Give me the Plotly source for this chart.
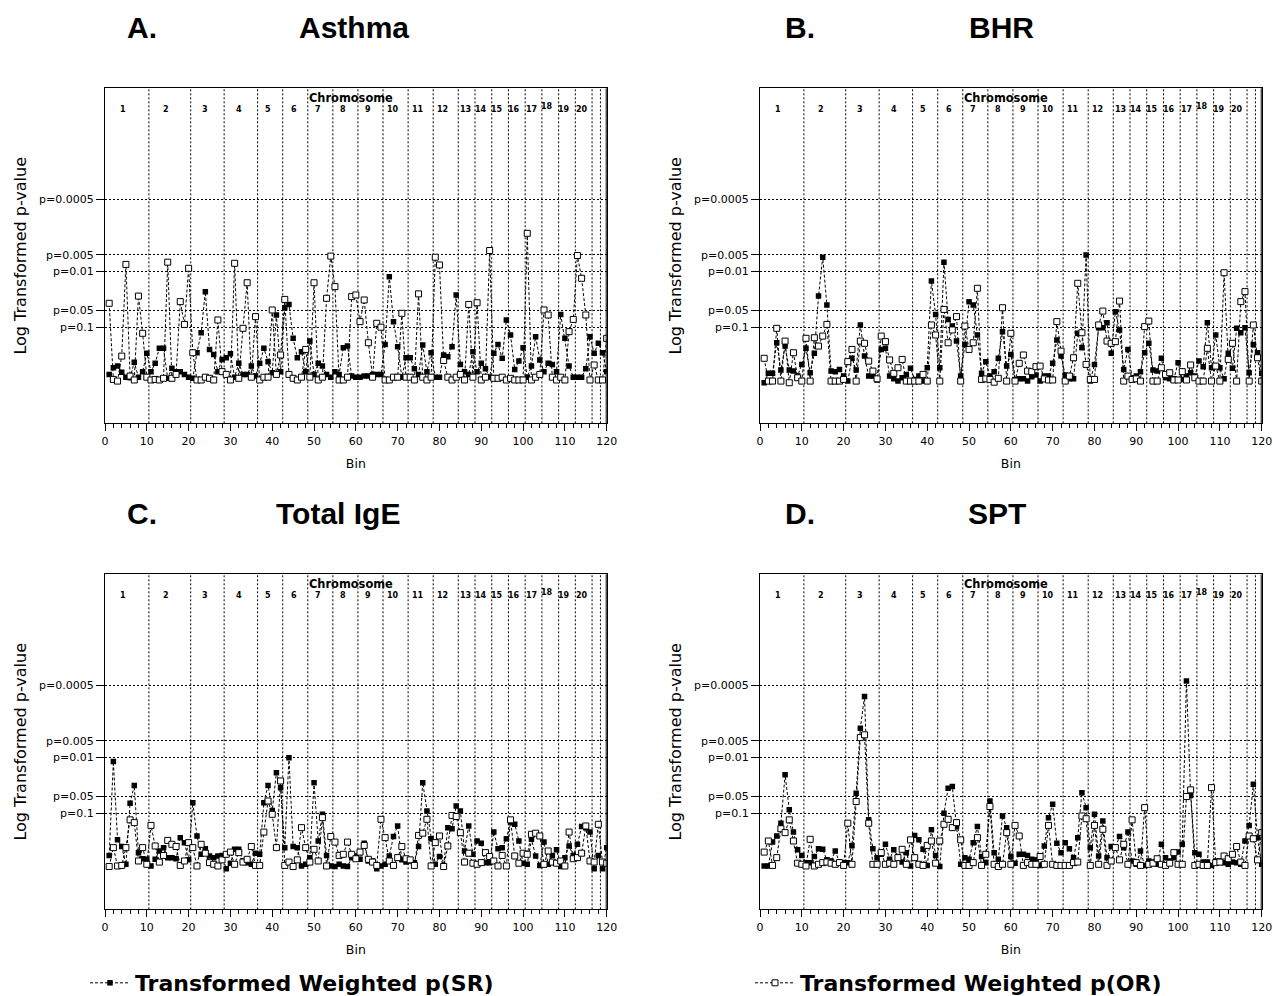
import plotly.graph_objects as go
import numpy as np

# ---------------- data ----------------
bins = list(range(1, 121))

p_ticks = [0.0005, 0.005, 0.01, 0.05, 0.1]
p_tick_text = ["p=0.0005", "p=0.005", "p=0.01", "p=0.05", "p=0.1"]

chrom_bounds = [10.5, 20.5, 28.5, 36.5, 42.5, 48.5, 54.5, 60.5, 66.5, 72.5,
                78.5, 84.5, 88.5, 92.5, 96.5, 100.5, 104.5, 108.5, 112.5, 116.5, 118.5]
chrom_labels = [str(i) for i in range(1, 21)]
chrom_label_x = [4.4, 14.6, 23.9, 32.1, 39.1, 45.3, 51.0, 57.0, 63.0, 68.9,
                 74.9, 80.7, 86.2, 90.0, 93.8, 97.8, 102.0, 105.7, 109.7, 114.0]

A_SR = [0.15, 0.27, 0.30, 0.19, 0.10, 0.09, 0.37, 0.10, 0.20, 0.53,
        0.20, 0.35, 0.62, 0.62, 0.08, 0.26, 0.20, 0.20, 0.15, 0.10,
        0.08, 0.54, 0.90, 1.64, 0.60, 0.51, 0.20, 0.42, 0.45, 0.52,
        0.10, 0.35, 0.15, 0.15, 0.30, 0.12, 0.35, 0.62, 0.38, 0.18,
        1.22, 0.20, 1.35, 1.41, 0.80, 0.45, 0.56, 0.20, 0.75, 0.15,
        0.35, 0.30, 0.15, 0.10, 0.20, 0.15, 0.63, 0.66, 0.12, 0.10,
        0.10, 0.12, 0.12, 0.15, 0.15, 0.15, 0.69, 1.91, 1.10, 0.65,
        0.10, 0.45, 0.45, 0.25, 0.15, 0.68, 0.20, 0.54, 0.10, 0.10,
        0.50, 0.47, 0.65, 1.58, 0.33, 0.20, 0.15, 0.56, 0.20, 0.35,
        0.25, 0.10, 0.53, 0.69, 0.44, 1.13, 0.86, 0.24, 0.39, 0.63,
        0.10, 0.30, 0.83, 0.41, 0.20, 0.35, 0.33, 0.20, 1.23, 0.80,
        0.30, 0.10, 0.10, 0.10, 0.25, 0.83, 0.53, 0.71, 0.54, 0.20]
A_OR = [1.43, 0.06, 0.03, 0.48, 2.13, 0.12, 0.05, 1.56, 0.89, 0.10,
        0.05, 0.06, 0.05, 0.08, 2.17, 0.08, 0.15, 1.46, 1.05, 2.06,
        0.54, 0.05, 0.05, 0.10, 0.08, 0.05, 1.13, 0.20, 0.15, 0.05,
        2.15, 0.08, 0.98, 1.80, 0.10, 1.19, 0.05, 0.10, 0.10, 1.31,
        0.15, 0.50, 1.50, 0.15, 0.08, 0.05, 0.10, 0.60, 0.10, 1.80,
        0.05, 0.10, 1.52, 2.28, 1.73, 0.05, 0.05, 0.10, 1.55, 1.58,
        1.10, 1.49, 0.72, 0.10, 1.07, 1.00, 0.05, 0.05, 0.10, 0.10,
        1.25, 0.10, 0.10, 0.05, 1.60, 0.10, 0.05, 0.10, 2.26, 2.12,
        0.40, 0.10, 0.05, 0.10, 0.15, 0.05, 1.41, 0.10, 1.44, 0.05,
        0.10, 2.38, 0.08, 0.08, 0.10, 0.05, 0.08, 0.05, 0.05, 0.05,
        2.69, 0.05, 0.10, 0.15, 1.31, 1.22, 0.10, 0.05, 0.10, 0.05,
        0.92, 1.14, 2.29, 1.88, 1.22, 0.05, 0.32, 0.05, 0.05, 0.80]

B_SR = [0.00, 0.17, 0.17, 0.72, 0.23, 0.66, 0.23, 0.21, 0.12, 0.33,
        0.62, 0.18, 0.53, 1.56, 2.26, 1.40, 0.21, 0.20, 0.24, 0.12,
        0.03, 0.44, 0.23, 1.04, 0.48, 0.12, 0.12, 0.05, 0.60, 0.62,
        0.12, 0.07, 0.03, 0.09, 0.15, 0.26, 0.06, 0.12, 0.03, 0.27,
        1.83, 1.23, 0.27, 2.17, 1.14, 1.02, 0.75, 0.12, 0.69, 1.46,
        1.40, 0.86, 0.17, 0.38, 0.12, 0.20, 0.44, 0.92, 0.30, 0.51,
        0.06, 0.07, 0.07, 0.03, 0.11, 0.14, 0.03, 0.12, 0.12, 0.35,
        0.77, 0.48, 0.14, 0.07, 0.07, 0.89, 0.63, 2.30, 0.03, 0.33,
        0.99, 0.99, 1.08, 0.53, 1.28, 0.95, 0.24, 0.60, 0.09, 0.12,
        0.20, 0.54, 0.71, 0.23, 0.21, 0.44, 0.09, 0.07, 0.07, 0.36,
        0.06, 0.12, 0.18, 0.12, 0.39, 0.29, 1.08, 0.27, 0.86, 0.27,
        0.07, 0.53, 0.26, 0.98, 0.90, 0.99, 0.18, 0.69, 0.54, 0.17]
B_OR = [0.44, 0.03, 0.03, 0.98, 0.03, 0.75, 0.00, 0.54, 0.09, 0.03,
        0.80, 0.03, 0.81, 0.66, 0.84, 1.05, 0.03, 0.03, 0.03, 0.06,
        0.38, 0.60, 0.03, 0.75, 0.71, 0.39, 0.21, 0.07, 0.84, 0.74,
        0.41, 0.17, 0.27, 0.42, 0.03, 0.03, 0.03, 0.03, 0.15, 0.03,
        1.04, 0.86, 0.03, 1.32, 0.72, 0.95, 1.19, 0.03, 1.02, 0.60,
        0.72, 1.70, 0.06, 0.07, 0.06, 0.01, 0.08, 1.35, 0.03, 0.89,
        0.03, 0.35, 0.50, 0.21, 0.20, 0.29, 0.30, 0.07, 0.05, 0.05,
        1.10, 0.57, 0.03, 0.12, 0.45, 1.79, 0.90, 0.33, 0.06, 0.06,
        1.04, 1.29, 0.75, 0.71, 0.74, 1.47, 0.03, 0.12, 0.06, 0.07,
        0.03, 1.01, 1.11, 0.03, 0.03, 0.27, 0.15, 0.18, 0.05, 0.05,
        0.20, 0.05, 0.32, 0.09, 0.03, 0.03, 0.62, 0.03, 0.30, 0.03,
        1.98, 0.42, 0.71, 0.03, 1.46, 1.64, 0.03, 1.04, 0.45, 0.03]

C_SR = [0.24, 1.93, 0.52, 0.40, 0.08, 1.18, 1.50, 0.29, 0.18, 0.17,
        0.05, 0.17, 0.32, 0.38, 0.20, 0.20, 0.18, 0.56, 0.47, 0.16,
        1.19, 0.59, 0.26, 0.36, 0.23, 0.20, 0.23, 0.24, 0.00, 0.10,
        0.35, 0.35, 0.14, 0.11, 0.08, 0.28, 0.26, 1.19, 1.50, 1.05,
        1.73, 1.46, 0.38, 2.00, 0.40, 0.38, 0.05, 0.08, 0.20, 1.55,
        0.50, 0.98, 0.24, 0.05, 0.04, 0.08, 0.05, 0.04, 0.20, 0.23,
        0.17, 0.46, 0.14, 0.14, 0.00, 0.05, 0.08, 0.23, 0.58, 0.77,
        0.16, 0.12, 0.14, 0.11, 0.40, 1.55, 1.04, 0.54, 0.08, 0.22,
        0.06, 0.74, 0.72, 1.13, 1.04, 0.32, 0.77, 0.26, 0.50, 0.46,
        0.11, 0.11, 0.66, 0.36, 0.38, 0.54, 0.84, 0.80, 0.50, 0.10,
        0.08, 0.53, 0.23, 0.06, 0.48, 0.08, 0.24, 0.34, 0.04, 0.20,
        0.41, 0.24, 0.44, 0.76, 0.74, 0.66, 0.00, 0.24, 0.00, 0.38]
C_OR = [0.04, 0.38, 0.05, 0.06, 0.38, 0.88, 0.83, 0.14, 0.38, 0.08,
        0.78, 0.41, 0.12, 0.24, 0.51, 0.44, 0.40, 0.06, 0.14, 0.47,
        0.38, 0.05, 0.44, 0.28, 0.11, 0.08, 0.05, 0.16, 0.26, 0.30,
        0.08, 0.29, 0.12, 0.17, 0.40, 0.06, 0.06, 0.66, 1.22, 0.98,
        0.38, 1.58, 0.06, 0.12, 0.04, 0.16, 0.74, 0.38, 0.12, 0.35,
        0.14, 0.92, 0.05, 0.58, 0.48, 0.24, 0.26, 0.48, 0.26, 0.18,
        0.30, 0.42, 0.17, 0.12, 0.06, 0.89, 0.56, 0.14, 0.06, 0.20,
        0.40, 0.18, 0.16, 0.06, 0.60, 0.64, 0.89, 0.05, 0.47, 0.59,
        0.04, 0.41, 0.96, 0.94, 0.65, 0.12, 0.28, 0.10, 0.08, 0.11,
        0.29, 0.22, 0.14, 0.05, 0.24, 0.05, 0.88, 0.23, 0.10, 0.28,
        0.26, 0.62, 0.64, 0.59, 0.08, 0.32, 0.12, 0.10, 0.14, 0.05,
        0.66, 0.18, 0.20, 0.28, 0.77, 0.14, 0.12, 0.80, 0.12, 0.10]

D_SR = [0.05, 0.05, 0.48, 0.59, 0.82, 1.69, 1.06, 0.66, 0.34, 0.24,
        0.11, 0.11, 0.22, 0.36, 0.35, 0.16, 0.14, 0.32, 0.12, 0.11,
        0.11, 0.42, 1.36, 2.53, 3.10, 0.88, 0.36, 0.20, 0.26, 0.44,
        0.17, 0.34, 0.22, 0.12, 0.29, 0.05, 0.60, 0.52, 0.35, 0.06,
        0.70, 0.24, 0.04, 1.00, 1.45, 1.48, 0.76, 0.08, 0.20, 0.17,
        0.47, 0.76, 0.22, 0.11, 1.22, 0.29, 0.17, 0.95, 0.74, 0.22,
        0.10, 0.26, 0.26, 0.24, 0.17, 0.16, 0.06, 0.41, 0.92, 1.16,
        0.46, 0.29, 0.47, 0.36, 0.20, 0.56, 1.37, 1.10, 0.38, 0.98,
        0.23, 0.86, 0.20, 0.40, 0.38, 0.58, 0.38, 0.66, 0.14, 0.08,
        0.32, 0.06, 0.14, 0.12, 0.08, 0.44, 0.20, 0.14, 0.20, 0.30,
        0.44, 3.38, 1.32, 0.29, 0.26, 0.12, 0.12, 0.06, 0.14, 0.14,
        0.11, 0.08, 0.12, 0.11, 0.08, 0.50, 0.78, 1.52, 0.56, 0.08]
D_OR = [0.30, 0.50, 0.06, 0.20, 0.72, 0.65, 0.88, 0.50, 0.10, 0.08,
        0.05, 0.53, 0.05, 0.08, 0.11, 0.12, 0.10, 0.08, 0.11, 0.06,
        0.82, 0.08, 1.21, 2.36, 2.41, 0.82, 0.08, 0.08, 0.29, 0.08,
        0.10, 0.08, 0.20, 0.35, 0.08, 0.52, 0.20, 0.08, 0.06, 0.42,
        0.50, 0.10, 0.50, 0.80, 0.89, 0.74, 0.83, 0.52, 0.06, 0.06,
        0.11, 0.56, 0.06, 0.26, 1.12, 0.08, 0.04, 0.08, 0.65, 0.08,
        0.78, 0.59, 0.06, 0.11, 0.08, 0.08, 0.22, 0.08, 0.78, 0.08,
        0.06, 0.06, 0.06, 0.06, 0.11, 0.12, 0.95, 0.90, 0.06, 0.78,
        0.08, 0.71, 0.06, 0.14, 0.38, 0.16, 0.44, 0.08, 0.88, 0.11,
        0.06, 1.10, 0.08, 0.10, 0.18, 0.08, 0.06, 0.10, 0.29, 0.08,
        0.08, 1.30, 1.42, 0.06, 0.08, 0.06, 0.06, 1.46, 0.11, 0.12,
        0.23, 0.18, 0.26, 0.40, 0.12, 0.06, 0.59, 0.54, 0.16, 0.65]

panel_letters = ["A.", "B.", "C.", "D."]
panel_titles = ["Asthma", "BHR", "Total IgE", "SPT"]
panel_sr = [A_SR, B_SR, C_SR, D_SR]
panel_or = [A_OR, B_OR, C_OR, D_OR]
series_names = ["Transformed Weighted p(SR)", "Transformed Weighted p(OR)"]

# ---------------- layout geometry ----------------
W, H = 1273, 996
x_domains = [[105 / W, 606.7 / W], [760 / W, 1261.7 / W]]
y_domains = [[1 - 423.3 / H, 1 - 88.3 / H], [1 - 909.3 / H, 1 - 574.3 / H]]
y_range = [-0.73, 5.30]
tick_y = [float(-np.log10(p)) for p in p_ticks]

FONT = "DejaVu Sans"
TITLE_FONT = "Liberation Sans"

fig = go.Figure()
layout = dict(
    width=W, height=H, autosize=False,
    margin=dict(l=0, r=0, t=0, b=0, autoexpand=False),
    paper_bgcolor="white", plot_bgcolor="white",
    font=dict(family=FONT, color="black"),
    showlegend=True,
)
annotations = []
shapes = []

title_pos = [  # (letter x px, title center x px, y px)
    (125, 354, 27.5), (783, 1001, 27.5), (125, 338, 513.5), (783, 997, 513.5)
]

for i in range(4):
    row, col = divmod(i, 2)
    n = i + 1
    xa = "x" if n == 1 else f"x{n}"
    ya = "y" if n == 1 else f"y{n}"
    xkey = "xaxis" if n == 1 else f"xaxis{n}"
    ykey = "yaxis" if n == 1 else f"yaxis{n}"

    layout[xkey] = dict(
        domain=x_domains[col], anchor=ya, range=[0, 120],
        tick0=0, dtick=10, ticks="outside", ticklen=7, tickwidth=1, tickcolor="black",
        minor=dict(dtick=2, ticks="outside", ticklen=4, tickcolor="black", showgrid=False),
        showline=True, linecolor="black", linewidth=1, mirror=True,
        showgrid=False, zeroline=False, automargin=False,
        tickfont=dict(family=FONT, size=11),
        title=dict(text="Bin", font=dict(family=FONT, size=12.5), standoff=12),
    )
    layout[ykey] = dict(
        domain=y_domains[row], anchor=xa, range=y_range,
        tickmode="array", tickvals=tick_y, ticktext=p_tick_text,
        ticks="outside", ticklen=8, tickwidth=1, tickcolor="black",
        showline=True, linecolor="black", linewidth=1, mirror=True,
        showgrid=True, gridcolor="black", gridwidth=1, griddash="2px,2px",
        zeroline=False, automargin=False,
        tickfont=dict(family=FONT, size=11),
        title=dict(text="Log Transformed p-value", font=dict(family=FONT, size=16), standoff=8),
    )

    fig.add_trace(go.Scatter(
        x=bins, y=panel_sr[i], xaxis=xa, yaxis=ya, mode="lines+markers",
        name=series_names[0], legend="legend", showlegend=(i == 0),
        line=dict(color="black", width=1, dash="3px,2px"),
        marker=dict(symbol="square", size=5.5, color="black"),
    ))
    fig.add_trace(go.Scatter(
        x=bins, y=panel_or[i], xaxis=xa, yaxis=ya, mode="lines+markers",
        name=series_names[1], legend="legend2", showlegend=(i == 0),
        line=dict(color="black", width=1, dash="3px,2px"),
        marker=dict(symbol="square", size=6, color="white",
                    line=dict(color="black", width=1)),
    ))

    # chromosome boundaries
    for b in chrom_bounds:
        shapes.append(dict(type="line", xref=xa, yref=f"{ya} domain",
                           x0=b, x1=b, y0=0, y1=1,
                           line=dict(color="black", width=1, dash="2px,2px"), layer="below"))
    # heavier right frame
    shapes.append(dict(type="line", xref=xa, yref=f"{ya} domain", x0=120, x1=120, y0=0, y1=1,
                       line=dict(color="black", width=2)))

    annotations.append(dict(text="<b>Chromosome</b>", xref=xa, yref=f"{ya} domain",
                            x=58.9, y=0.972, yanchor="middle", showarrow=False,
                            font=dict(family=FONT, size=11.4, color="black")))
    for lab, lx in zip(chrom_labels, chrom_label_x):
        annotations.append(dict(text=f"<b>{lab}</b>", xref=xa, yref=f"{ya} domain",
                                x=lx, y=0.945 if lab == "18" else 0.938, yanchor="middle",
                                showarrow=False,
                                font=dict(family=FONT, size=8, color="black")))

    lx_px, tx_px, ty_px = title_pos[i]
    annotations.append(dict(text=f"<b>{panel_letters[i]}</b>", xref="paper", yref="paper",
                            x=lx_px / W, y=1 - ty_px / H, xanchor="left", yanchor="middle",
                            showarrow=False, font=dict(family=TITLE_FONT, size=30, color="black")))
    annotations.append(dict(text=f"<b>{panel_titles[i]}</b>", xref="paper", yref="paper",
                            x=tx_px / W, y=1 - ty_px / H, xanchor="center", yanchor="middle",
                            showarrow=False, font=dict(family=TITLE_FONT, size=30, color="black")))

layout["annotations"] = annotations
layout["shapes"] = shapes
legend_font = dict(family=FONT, size=22, weight="bold", color="black")
layout["legend"] = dict(
    orientation="h", x=85 / W, xanchor="left", y=1 - 983 / H, yanchor="middle",
    itemwidth=40, font=legend_font, bgcolor="rgba(0,0,0,0)", borderwidth=0,
)
layout["legend2"] = dict(
    orientation="h", x=750 / W, xanchor="left", y=1 - 983 / H, yanchor="middle",
    itemwidth=40, font=legend_font, bgcolor="rgba(0,0,0,0)", borderwidth=0,
)
fig.update_layout(**layout)

fig.write_html("out.html", config={"displayModeBar": False},
               post_script="document.body.style.margin='0';")
